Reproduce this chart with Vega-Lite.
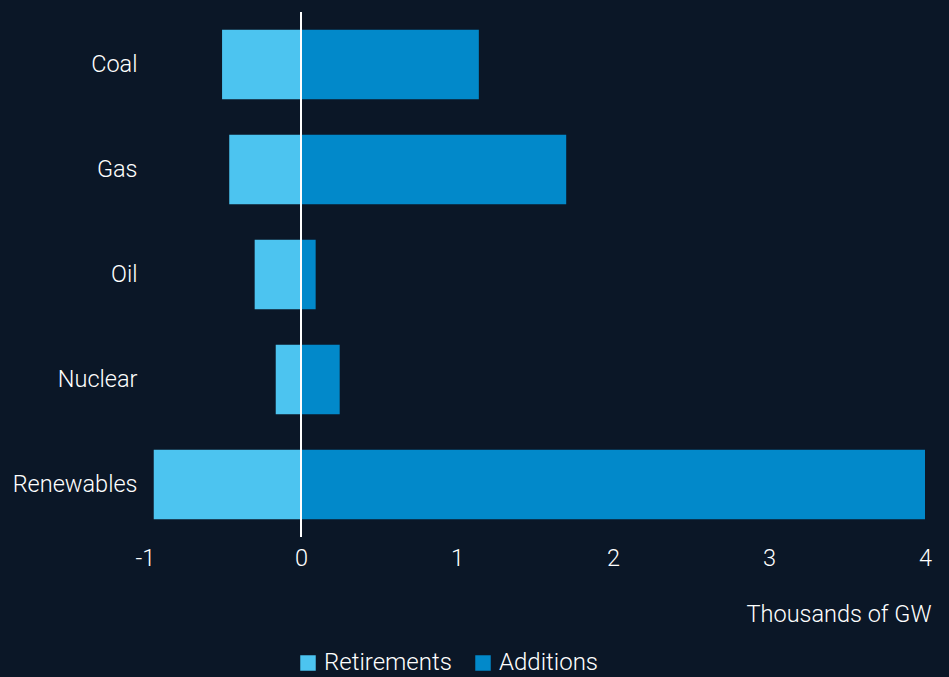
{
  "$schema": "https://vega.github.io/schema/vega-lite/v6.json",
  "autosize": "none",
  "width": 780,
  "height": 525,
  "padding": {"left": 145, "top": 12, "right": 24, "bottom": 140},
  "background": "#0b1727",
  "config": {
    "view": {"stroke": null},
    "font": "Roboto",
    "axis": {"labelColor": "#ffffff", "titleColor": "#ffffff", "grid": false, "domain": false, "ticks": false}
  },
  "data": {
    "values": [
      {"source": "Coal", "type": "Retirements", "value": -0.506},
      {"source": "Coal", "type": "Additions", "value": 1.14},
      {"source": "Gas", "type": "Retirements", "value": -0.46},
      {"source": "Gas", "type": "Additions", "value": 1.70},
      {"source": "Oil", "type": "Retirements", "value": -0.297},
      {"source": "Oil", "type": "Additions", "value": 0.094},
      {"source": "Nuclear", "type": "Retirements", "value": -0.162},
      {"source": "Nuclear", "type": "Additions", "value": 0.248},
      {"source": "Renewables", "type": "Retirements", "value": -0.944},
      {"source": "Renewables", "type": "Additions", "value": 4.0}
    ]
  },
  "layer": [
    {
      "mark": {"type": "bar"},
      "encoding": {
        "y": {
          "field": "source", "type": "nominal",
          "sort": ["Coal", "Gas", "Oil", "Nuclear", "Renewables"],
          "scale": {"paddingInner": 0.34, "paddingOuter": 0.17},
          "axis": {"title": null, "labelFontSize": 23.5, "labelPadding": 8, "labelFontWeight": 300}
        },
        "x": {
          "field": "value", "type": "quantitative",
          "scale": {"domain": [-1, 4], "nice": false},
          "axis": {
            "title": "Thousands of GW",
            "values": [-1, 0, 1, 2, 3, 4],
            "labelExpr": "'' + datum.value",
            "labelFlush": false,
            "labelFontSize": 23.5, "labelPadding": 9, "labelFontWeight": 300,
            "titleFontSize": 23.5, "titleFontWeight": 300,
            "titleAnchor": "end", "titlePadding": 33, "titleX": 786, "titleAlign": "right"
          }
        },
        "color": {
          "field": "type", "type": "nominal",
          "scale": {"domain": ["Retirements", "Additions"], "range": ["#4cc4f0", "#0289ca"]},
          "legend": {
            "title": null, "orient": "none", "direction": "horizontal",
            "legendX": 151, "legendY": 639,
            "symbolType": "square", "symbolSize": 240, "symbolOpacity": 1,
            "labelFontSize": 24, "labelColor": "#ffffff", "labelFontWeight": 300,
            "labelOffset": 4, "columnPadding": 19
          }
        }
      }
    },
    {
      "mark": {"type": "rule", "color": "#ffffff", "strokeWidth": 2},
      "encoding": {"x": {"datum": 0}}
    }
  ]
}
